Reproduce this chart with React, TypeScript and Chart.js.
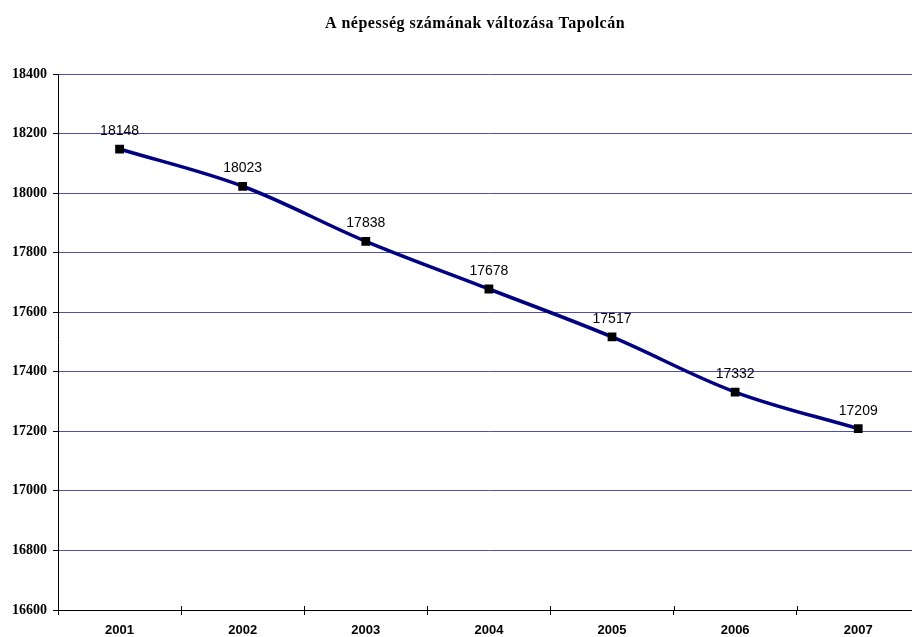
import React, { useEffect, useRef } from "react";
import { Chart, registerables } from "chart.js";

Chart.register(...registerables);

const years = ["2001", "2002", "2003", "2004", "2005", "2006", "2007"];
const population = [18148, 18023, 17838, 17678, 17517, 17332, 17209];
const yMin = 16600;
const yMax = 18400;
const yStep = 200;
const titleText = "A népesség számának változása Tapolcán";

const CANVAS_W = 926;
const CANVAS_H = 637;

export default function App() {
  const ref = useRef<HTMLCanvasElement | null>(null);

  useEffect(() => {
    if (!ref.current) return;
    const labelPlugin = {
      id: "pointLabels",
      afterDatasetsDraw(chart: any) {
        const ctx = chart.ctx;
        const meta = chart.getDatasetMeta(0);
        ctx.save();
        ctx.font = "14px 'Liberation Sans', Arial, sans-serif";
        ctx.fillStyle = "#000";
        ctx.textAlign = "center";
        ctx.textBaseline = "alphabetic";
        meta.data.forEach((pt: any, i: number) => {
          ctx.fillText(String(population[i]), pt.x, pt.y - 14);
        });
        ctx.restore();
      },
    };
    const tickPlugin = {
      id: "innerTicks",
      afterDraw(chart: any) {
        const ctx = chart.ctx;
        const area = chart.chartArea;
        const n = years.length;
        const w = (area.right - area.left) / n;
        ctx.save();
        ctx.strokeStyle = "#000";
        ctx.lineWidth = 1;
        ctx.beginPath();
        for (let i = 1; i < n; i++) {
          const x = Math.round(area.left + i * w) + 0.5;
          ctx.moveTo(x, area.bottom - 4);
          ctx.lineTo(x, area.bottom);
        }
        ctx.stroke();
        ctx.restore();
      },
    };
    const titlePlugin = {
      id: "customTitle",
      afterDraw(chart: any) {
        const ctx = chart.ctx;
        ctx.save();
        ctx.font = "bold 16px 'Liberation Serif', 'Times New Roman', serif";
        try {
          (ctx as any).letterSpacing = "0.5px";
        } catch (e) {}
        ctx.fillStyle = "#000";
        ctx.textAlign = "center";
        ctx.textBaseline = "middle";
        ctx.fillText(titleText, 475, 24);
        ctx.restore();
      },
    };
    const chart = new Chart(ref.current, {
      type: "line",
      data: {
        labels: years,
        datasets: [
          {
            data: population,
            borderColor: "#000080",
            borderWidth: 3.5,
            tension: 0.35,
            pointStyle: "rect",
            pointRadius: 6.2,
            pointBackgroundColor: "#000",
            pointBorderColor: "#000",
            pointBorderWidth: 0,
            fill: false,
          },
        ],
      },
      options: {
        responsive: false,
        animation: false,
        layout: { padding: { top: 74, right: 1, left: 0, bottom: 0 } },
        plugins: {
          legend: { display: false },
          title: { display: false },
          tooltip: { enabled: false },
        },
        scales: {
          x: {
            offset: true,
            grid: {
              offset: true,
              drawOnChartArea: false,
              tickLength: 5,
              tickColor: "#000",
            },
            border: { color: "#000", width: 1 },
            ticks: {
              color: "#000",
              padding: 8,
              font: { family: "'Liberation Sans', Arial, sans-serif", size: 13, weight: "bold" },
            },
            afterFit(scale: any) {
              scale.height = 27;
            },
          },
          y: {
            min: yMin,
            max: yMax,
            ticks: {
              stepSize: yStep,
              color: "#000",
              padding: 6,
              callback: (v: any) => String(v),
              font: { family: "'Liberation Serif', 'Times New Roman', serif", size: 14, weight: "bold" },
            },
            grid: {
              color: "#5050a8",
              lineWidth: 1,
              tickLength: 5,
              tickColor: "#000",
            },
            border: { color: "#000", width: 1 },
            afterFit(scale: any) {
              scale.width = 58;
            },
          },
        },
      },
      plugins: [labelPlugin, tickPlugin, titlePlugin],
    });
    return () => chart.destroy();
  }, []);

  return (
    <div
      style={{
        position: "fixed",
        left: 0,
        top: 0,
        width: 912,
        height: 637,
        overflow: "hidden",
        background: "#fff",
      }}
    >
      <canvas ref={ref} width={CANVAS_W} height={CANVAS_H} style={{ display: "block" }} />
    </div>
  );
}
